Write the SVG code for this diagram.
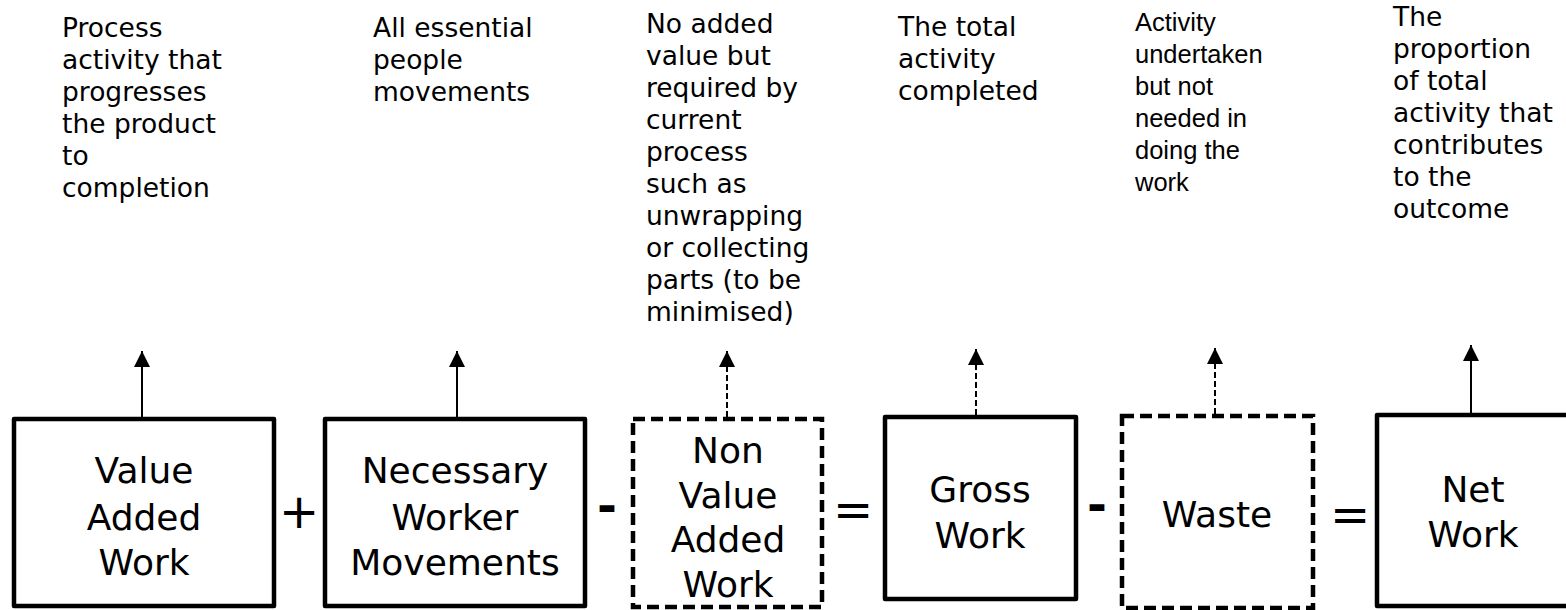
<svg xmlns="http://www.w3.org/2000/svg" width="1566" height="610" viewBox="0 0 1566 610">
<style>
.box{fill:#fff;stroke:#000;stroke-width:4.5;stroke-linejoin:round}
.dbox{fill:#fff;stroke:#000;stroke-width:4.5;stroke-dasharray:12 6}
.lbl{font-family:"DejaVu Sans",Verdana,sans-serif;font-size:36px;fill:#000;text-anchor:middle}
.desc{font-family:"DejaVu Sans",Verdana,sans-serif;font-size:26.5px;fill:#000}
.desca{font-family:"Liberation Sans",Arial,sans-serif;font-size:25.5px;fill:#000}
.op{font-family:"DejaVu Sans",Verdana,sans-serif;font-size:48px;fill:#000;text-anchor:middle}
.minus{font-weight:bold}
.arr{stroke:#000;stroke-width:2;fill:none}
.darr{stroke:#000;stroke-width:2;fill:none;stroke-dasharray:6 3}
</style>
<defs>
<marker id="ah" viewBox="0 0 10 10" refX="10" refY="5" markerWidth="16" markerHeight="16" markerUnits="userSpaceOnUse" orient="auto">
<path d="M0,0 L10,5 L0,10 z" fill="#000"/>
</marker>
</defs>
<rect width="1566" height="610" fill="#fff"/>

<g id="connectors">
<line class="arr" x1="142" y1="417" x2="142" y2="351" marker-end="url(#ah)"/>
<line class="arr" x1="457" y1="417" x2="457" y2="351" marker-end="url(#ah)"/>
<line class="darr" x1="727" y1="417" x2="727" y2="351" marker-end="url(#ah)"/>
<line class="darr" x1="976" y1="415" x2="976" y2="349" marker-end="url(#ah)"/>
<line class="darr" x1="1215" y1="414" x2="1215" y2="348" marker-end="url(#ah)"/>
<line class="arr" x1="1471" y1="413" x2="1471" y2="345" marker-end="url(#ah)"/>
</g>

<g id="node-value-added">
<rect class="box" x="14" y="419" width="260" height="187"/>
<text class="lbl" x="144" y="483">Value</text>
<text class="lbl" x="144" y="530">Added</text>
<text class="lbl" x="144" y="575">Work</text>
<text class="desc" x="62" y="37">Process</text>
<text class="desc" x="62" y="69">activity that</text>
<text class="desc" x="62" y="101">progresses</text>
<text class="desc" x="62" y="133">the product</text>
<text class="desc" x="62" y="165">to</text>
<text class="desc" x="62" y="197">completion</text>
</g>

<g id="node-necessary">
<rect class="box" x="325" y="419" width="260" height="187"/>
<text class="lbl" x="455" y="483">Necessary</text>
<text class="lbl" x="455" y="530">Worker</text>
<text class="lbl" x="455" y="575">Movements</text>
<text class="desc" x="373" y="37">All essential</text>
<text class="desc" x="373" y="69">people</text>
<text class="desc" x="373" y="101">movements</text>
</g>

<g id="node-non-value">
<rect class="dbox" x="633" y="419" width="189" height="188"/>
<text class="lbl" x="728" y="463">Non</text>
<text class="lbl" x="728" y="508">Value</text>
<text class="lbl" x="728" y="552">Added</text>
<text class="lbl" x="728" y="597">Work</text>
<text class="desc" x="646" y="33">No added</text>
<text class="desc" x="646" y="65">value but</text>
<text class="desc" x="646" y="97">required by</text>
<text class="desc" x="646" y="129">current</text>
<text class="desc" x="646" y="161">process</text>
<text class="desc" x="646" y="193">such as</text>
<text class="desc" x="646" y="225">unwrapping</text>
<text class="desc" x="646" y="257">or collecting</text>
<text class="desc" x="646" y="289">parts (to be</text>
<text class="desc" x="646" y="321">minimised)</text>
</g>

<g id="node-gross">
<rect class="box" x="885" y="417" width="191" height="182"/>
<text class="lbl" x="980" y="502">Gross</text>
<text class="lbl" x="980" y="548">Work</text>
<text class="desc" x="898" y="36">The total</text>
<text class="desc" x="898" y="68">activity</text>
<text class="desc" x="898" y="100">completed</text>
</g>

<g id="node-waste">
<rect class="dbox" x="1122" y="416" width="191" height="192"/>
<text class="lbl" x="1217" y="527">Waste</text>
<text class="desca" x="1135" y="31">Activity</text>
<text class="desca" x="1135" y="63">undertaken</text>
<text class="desca" x="1135" y="95">but not</text>
<text class="desca" x="1135" y="127">needed in</text>
<text class="desca" x="1135" y="159">doing the</text>
<text class="desca" x="1135" y="191">work</text>
</g>

<g id="node-net">
<rect class="box" x="1377" y="415" width="220" height="191"/>
<text class="lbl" x="1473" y="502">Net</text>
<text class="lbl" x="1473" y="547">Work</text>
<text class="desc" x="1393" y="26">The</text>
<text class="desc" x="1393" y="58">proportion</text>
<text class="desc" x="1393" y="90">of total</text>
<text class="desc" x="1393" y="122">activity that</text>
<text class="desc" x="1393" y="154">contributes</text>
<text class="desc" x="1393" y="186">to the</text>
<text class="desc" x="1393" y="218">outcome</text>
</g>

<g id="operators">
<text class="op" x="299" y="528">+</text>
<text class="op minus" x="607" y="522">-</text>
<text class="op" x="853" y="526">=</text>
<text class="op minus" x="1097" y="521">-</text>
<text class="op" x="1350" y="531">=</text>
</g>
</svg>
